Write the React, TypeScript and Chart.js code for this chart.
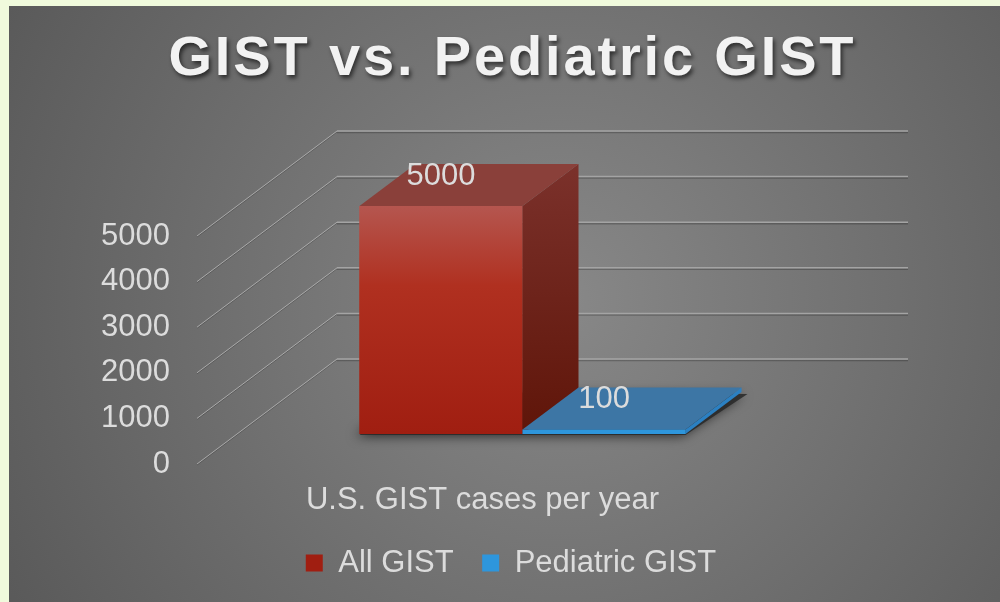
import React, { useEffect, useRef } from 'react';
import { Chart, registerables } from 'chart.js';

Chart.register(...registerables);

// ---- data ----
const TITLE = 'GIST vs. Pediatric GIST';
const CATEGORIES = ['U.S. GIST cases per year'];
const SERIES_NAMES = ['All GIST', 'Pediatric GIST'];
const ALL_GIST = [5000];
const PEDIATRIC_GIST = [100];
const Y_MIN = 0;
const Y_MAX = 5000;
const Y_STEP = 1000;

// ---- style ----
const FONT = "'Liberation Sans', Arial, sans-serif";
const TEXT = '#dcdcdc';
const TITLE_SIZE = 56;
const TITLE_TARGET_WIDTH = 688;
const DEPTH_DX = 140; // full floor depth vector
const DEPTH_DY = -105;
const FRONT = 2 / 7; // fraction of depth in front of bars
const BAR_DEPTH = 0.4; // bar depth as fraction of floor depth
const FACE_STYLES = [
  { top: '#8a403a', sideTop: '#7b312b', sideBottom: '#5f1509' },
  { top: '#3d76a5', sideTop: '#2b80c2', sideBottom: '#2b80c2' },
];

function pickTitleFont() {
  const c = document.createElement('canvas').getContext('2d')!;
  for (const fam of ['Arial', "'Liberation Sans'"]) {
    c.font = `bold ${TITLE_SIZE}px ${fam}`;
    const w = c.measureText('GIST').width;
    if (w > 124) return { family: fam, weight: 'bold', fake: false };
  }
  return { family: "'Liberation Sans'", weight: 'normal', fake: true };
}

function makePlugin(titleFont: { family: string; weight: string; fake: boolean }) {
  return {
    id: 'threeD',
    beforeDraw(chart: any) {
      const { ctx, width, height } = chart;
      ctx.save();
      ctx.fillStyle = '#f0fadc';
      ctx.fillRect(0, 0, width, height);
      const g = ctx.createRadialGradient(560, 300, 0, 560, 300, 650);
      g.addColorStop(0, '#888888');
      g.addColorStop(1, '#585858');
      ctx.fillStyle = g;
      ctx.fillRect(9, 6, width - 9, height - 6);
      ctx.restore();

      const tb = chart.titleBlock;
      if (tb && !tb.__wrapped) {
        const orig = tb.draw.bind(tb);
        tb.draw = (...args: any[]) => {
          const c = chart.ctx;
          c.save();
          c.font = `${titleFont.weight} ${TITLE_SIZE}px ${titleFont.family}`;
          const w = c.measureText(TITLE).width + (titleFont.fake ? 1.6 * TITLE.length : 0);
          const ls = Math.max(0, (TITLE_TARGET_WIDTH - w) / TITLE.length);
          (c as any).letterSpacing = `${ls.toFixed(2)}px`;
          const passes = titleFont.fake ? [0, 0.8, 1.6] : [0];
          passes.forEach((dx, k) => {
            c.save();
            c.translate(dx + ls / 2, 0);
            if (k === 0) {
              c.shadowColor = 'rgba(0,0,0,0.6)';
              c.shadowOffsetX = 2;
              c.shadowOffsetY = 3;
              c.shadowBlur = 4;
            }
            orig(...args);
            c.restore();
          });
          c.restore();
        };
        tb.__wrapped = true;
      }
    },
    beforeDatasetsDraw(chart: any) {
      const { ctx, chartArea } = chart;
      const yScale = chart.scales.y;
      const fx = -FRONT * DEPTH_DX;
      const fy = -FRONT * DEPTH_DY;
      const bx = (1 - FRONT) * DEPTH_DX;
      const by = (1 - FRONT) * DEPTH_DY;
      ctx.save();
      yScale.ticks.forEach((t: any) => {
        const py = yScale.getPixelForValue(t.value);
        // side-wall diagonal
        ctx.lineWidth = 1;
        ctx.strokeStyle = 'rgba(0,0,0,0.18)';
        ctx.beginPath();
        ctx.moveTo(chartArea.left + fx, py + fy + 1);
        ctx.lineTo(chartArea.left + bx, py + by + 1);
        ctx.stroke();
        ctx.strokeStyle = '#a9a9a9';
        ctx.beginPath();
        ctx.moveTo(chartArea.left + fx, py + fy);
        ctx.lineTo(chartArea.left + bx, py + by);
        ctx.stroke();
        // back wall line
        ctx.lineWidth = 1.5;
        ctx.strokeStyle = 'rgba(0,0,0,0.22)';
        ctx.beginPath();
        ctx.moveTo(chartArea.left + bx, py + by + 1.5);
        ctx.lineTo(chartArea.right + bx, py + by + 1.5);
        ctx.stroke();
        ctx.strokeStyle = '#a4a4a4';
        ctx.beginPath();
        ctx.moveTo(chartArea.left + bx, py + by);
        ctx.lineTo(chartArea.right + bx, py + by);
        ctx.stroke();
      });

      // floor shadow of the bars
      const els: any[] = [];
      chart.data.datasets.forEach((_: any, i: number) => {
        const m = chart.getDatasetMeta(i);
        if (m.data[0]) els.push(m.data[0].getProps(['x', 'y', 'base', 'width'], true));
      });
      if (els.length) {
        const L = Math.min(...els.map((e) => e.x - e.width / 2));
        const R = Math.max(...els.map((e) => e.x + e.width / 2));
        const B = els[0].base;
        const ox = BAR_DEPTH * DEPTH_DX;
        const oy = BAR_DEPTH * DEPTH_DY;
        ctx.shadowColor = 'rgba(0,0,0,0.8)';
        ctx.shadowBlur = 12;
        ctx.shadowOffsetX = -4;
        ctx.shadowOffsetY = 1;
        ctx.fillStyle = 'rgba(40,40,40,0.85)';
        ctx.beginPath();
        ctx.moveTo(L, B + 1);
        ctx.lineTo(R, B + 1);
        ctx.lineTo(R + ox + 6, B + oy + 2);
        ctx.lineTo(L + ox, B + oy);
        ctx.closePath();
        ctx.fill();
      }
      ctx.restore();
    },
    afterDatasetsDraw(chart: any) {
      const { ctx } = chart;
      const ox = BAR_DEPTH * DEPTH_DX;
      const oy = BAR_DEPTH * DEPTH_DY;
      ctx.save();
      chart.data.datasets.forEach((ds: any, i: number) => {
        const meta = chart.getDatasetMeta(i);
        meta.data.forEach((el: any) => {
          const { x, y, base, width } = el.getProps(['x', 'y', 'base', 'width'], true);
          const L = x - width / 2;
          const R = x + width / 2;
          const st = FACE_STYLES[i % FACE_STYLES.length];
          // front (redrawn so later bars sit over earlier side faces)
          ctx.fillStyle = el.options.backgroundColor;
          ctx.fillRect(L, y, width, base - y);
          // side
          const sg = ctx.createLinearGradient(0, y + oy, 0, base);
          sg.addColorStop(0, st.sideTop);
          sg.addColorStop(1, st.sideBottom);
          ctx.fillStyle = sg;
          ctx.beginPath();
          ctx.moveTo(R, y);
          ctx.lineTo(R + ox, y + oy);
          ctx.lineTo(R + ox, base + oy);
          ctx.lineTo(R, base);
          ctx.closePath();
          ctx.fill();
          // top
          ctx.fillStyle = st.top;
          ctx.beginPath();
          ctx.moveTo(L, y);
          ctx.lineTo(R, y);
          ctx.lineTo(R + ox, y + oy);
          ctx.lineTo(L + ox, y + oy);
          ctx.closePath();
          ctx.fill();
        });
      });
      // data labels
      ctx.font = `31px ${FONT}`;
      ctx.fillStyle = TEXT;
      ctx.textAlign = 'center';
      ctx.textBaseline = 'middle';
      chart.data.datasets.forEach((ds: any, i: number) => {
        const meta = chart.getDatasetMeta(i);
        meta.data.forEach((el: any, j: number) => {
          const { x, y } = el.getProps(['x', 'y'], true);
          ctx.fillText(String(ds.data[j]), x, y - 30);
        });
      });
      ctx.restore();
    },
  };
}

export default function App() {
  const ref = useRef<HTMLCanvasElement>(null);
  useEffect(() => {
    const canvas = ref.current;
    if (!canvas) return;
    const titleFont = pickTitleFont();
    const chart = new Chart(canvas, {
      type: 'bar',
      data: {
        labels: CATEGORIES,
        datasets: [
          {
            label: SERIES_NAMES[0],
            data: ALL_GIST,
            backgroundColor: (c: any) => {
              const a = c.chart.chartArea;
              if (!a) return '#ad2f20';
              const g = c.chart.ctx.createLinearGradient(0, a.top, 0, a.bottom);
              g.addColorStop(0, '#b5564f');
              g.addColorStop(0.35, '#b03020');
              g.addColorStop(1, '#a01e11');
              return g;
            },
            borderWidth: 0,
          },
          {
            label: SERIES_NAMES[1],
            data: PEDIATRIC_GIST,
            backgroundColor: '#2e96dc',
            borderWidth: 0,
          },
        ],
      },
      options: {
        responsive: false,
        animation: false,
        events: [],
        layout: { padding: { left: 22, right: 0, top: 0, bottom: 13.5 } },
        datasets: { bar: { categoryPercentage: 0.571, barPercentage: 1 } },
        plugins: {
          title: {
            display: true,
            text: TITLE,
            color: '#f2f2f2',
            font: { family: titleFont.family, size: TITLE_SIZE, weight: titleFont.weight },
            padding: { top: 26, bottom: 112.8 },
          },
          legend: {
            position: 'bottom',
            labels: {
              color: TEXT,
              font: { family: FONT, size: 31 },
              boxWidth: 17,
              boxHeight: 17,
              padding: 28.5,
            },
          },
          tooltip: { enabled: false },
        },
        scales: {
          x: {
            grid: { display: false, drawTicks: false },
            border: { display: false },
            ticks: {
              color: TEXT,
              font: { family: FONT, size: 31 },
              padding: 48,
              labelOffset: -FRONT * DEPTH_DX,
              maxRotation: 0,
            },
            afterFit: (s: any) => {
              s.height = 85;
            },
          },
          y: {
            min: Y_MIN,
            max: Y_MAX,
            grid: { display: false, drawTicks: false },
            border: { display: false },
            ticks: {
              stepSize: Y_STEP,
              color: TEXT,
              font: { family: FONT, size: 31 },
              padding: 67,
              labelOffset: -FRONT * DEPTH_DY,
              callback: (v: any) => String(v),
            },
            afterFit: (s: any) => {
              s.width = 215;
            },
          },
          depthRight: {
            type: 'linear',
            position: 'right',
            display: true,
            grid: { display: false, drawTicks: false },
            border: { display: false },
            ticks: { display: false },
            afterFit: (s: any) => {
              s.width = 192;
            },
          },
        },
      },
      plugins: [makePlugin(titleFont)],
    } as any);
    return () => chart.destroy();
  }, []);
  return (
    <div style={{ position: 'fixed', left: 0, top: 0, width: 1000, height: 602 }}>
      <canvas ref={ref} width={1000} height={602} style={{ display: 'block' }} />
    </div>
  );
}
